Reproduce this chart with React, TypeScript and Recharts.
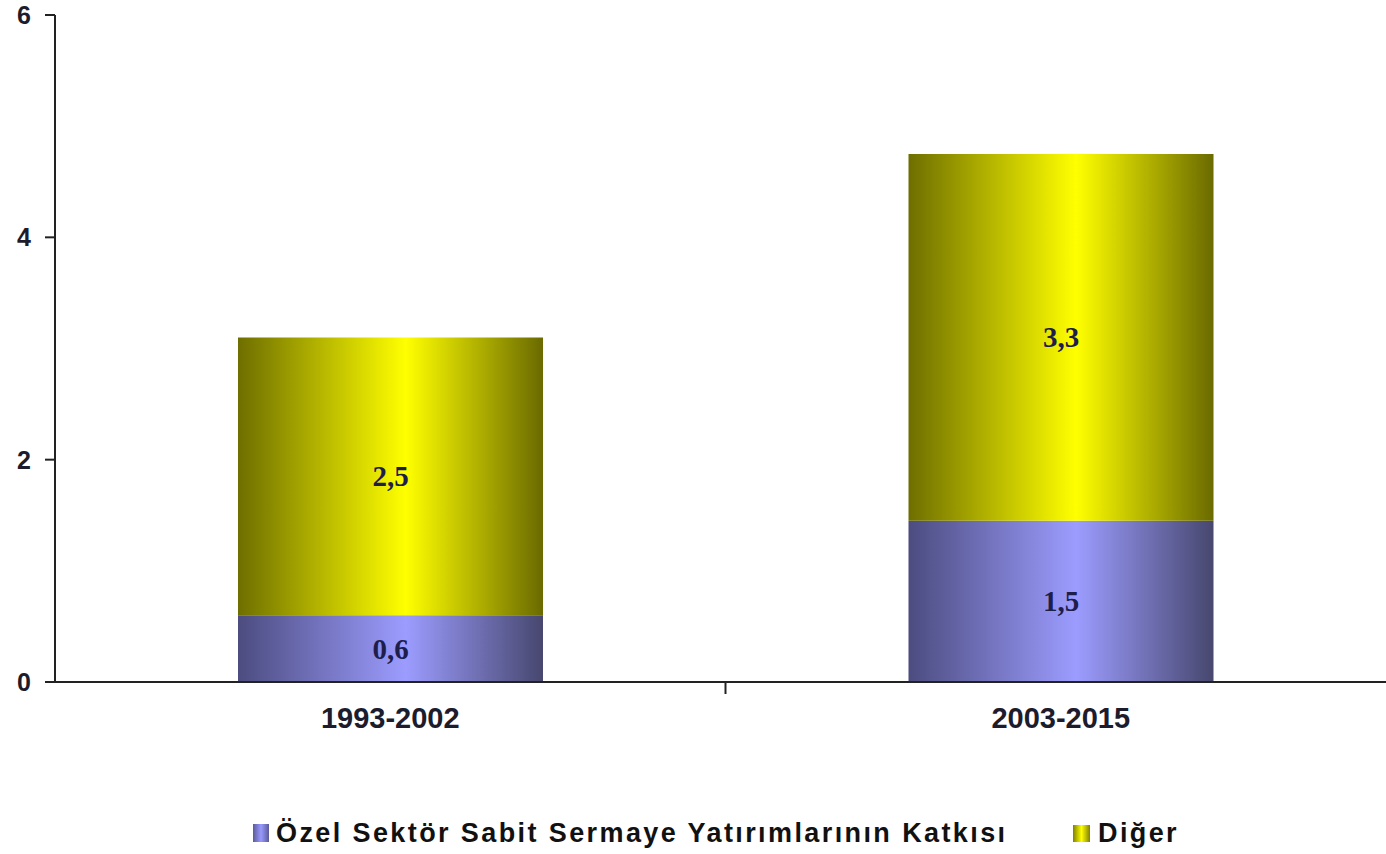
import React from 'react';
import { BarChart, Bar, XAxis, YAxis, LabelList } from 'recharts';

const categories = ['1993-2002', '2003-2015'];
const ozelValues = [0.6, 1.45];
const digerValues = [2.5, 3.3];
const ozelLabels = ['0,6', '1,5'];
const digerLabels = ['2,5', '3,3'];
const yTicks = [0, 2, 4, 6];
const seriesNames = ['Özel Sektör Sabit Sermaye Yatırımlarının Katkısı', 'Diğer'];

const data = categories.map((c, i) => ({ name: c, ozel: ozelValues[i], diger: digerValues[i] }));

const SANS = '"Liberation Sans", Arial, sans-serif';
const SERIF = '"Liberation Serif", "Times New Roman", serif';

const XTick = (props: any) => {
  const { x, y, payload, index, width, visibleTicksCount } = props;
  const band = width / (visibleTicksCount || categories.length);
  return (
    <g>
      <text x={x} y={y + 38} textAnchor="middle" fontFamily={SANS} fontWeight="bold" fontSize={29} fill="#1c1c2c">
        {payload.value}
      </text>
      {index < categories.length - 1 && (
        <line x1={x + band / 2} x2={x + band / 2} y1={y - 8} y2={y + 4} stroke="#222" strokeWidth={2} />
      )}
    </g>
  );
};

const makeLabel = (labels: string[]) => (props: any) => {
  const { x, y, width, height, index } = props;
  return (
    <text x={x + width / 2} y={y + height / 2} dy={10} textAnchor="middle" fontFamily={SERIF} fontWeight="bold" fontSize={29} fill="#1e1e4a">
      {labels[index]}
    </text>
  );
};

const legendText: React.CSSProperties = {
  fontFamily: SANS,
  fontWeight: 'bold',
  fontSize: 27,
  letterSpacing: 2.4,
  color: '#111',
  whiteSpace: 'nowrap',
  lineHeight: '30px',
};

export default function App() {
  return (
    <div style={{ position: 'absolute', left: 0, top: 0, width: 1386, height: 854, overflow: 'hidden', background: '#fff' }}>
      <BarChart width={1396} height={854} data={data} margin={{ top: 15, right: 0, left: 0, bottom: 0 }}>
        <defs>
          <linearGradient id="gradOzel" x1="0" y1="0" x2="1" y2="0">
            <stop offset="0%" stopColor="#4c4c80" />
            <stop offset="55%" stopColor="#9c9cff" />
            <stop offset="100%" stopColor="#47476f" />
          </linearGradient>
          <linearGradient id="gradDiger" x1="0" y1="0" x2="1" y2="0">
            <stop offset="0%" stopColor="#6e6e00" />
            <stop offset="55%" stopColor="#ffff00" />
            <stop offset="100%" stopColor="#6a6a00" />
          </linearGradient>
        </defs>
        <XAxis
          dataKey="name"
          axisLine={{ stroke: '#222', strokeWidth: 2 }}
          tickLine={false}
          tick={<XTick />}
          height={172}
          interval={0}
        />
        <YAxis
          domain={[0, 6]}
          ticks={yTicks}
          width={55}
          axisLine={{ stroke: '#222', strokeWidth: 2 }}
          tickLine={{ stroke: '#222', strokeWidth: 2 }}
          tickSize={10}
          tickMargin={14}
          tick={{ fontFamily: SANS, fontWeight: 'bold', fontSize: 25, fill: '#1c1c2c' }}
        />
        <Bar dataKey="ozel" stackId="a" fill="url(#gradOzel)" barSize={305} isAnimationActive={false}>
          <LabelList dataKey="ozel" content={makeLabel(ozelLabels)} />
        </Bar>
        <Bar dataKey="diger" stackId="a" fill="url(#gradDiger)" barSize={305} isAnimationActive={false}>
          <LabelList dataKey="diger" content={makeLabel(digerLabels)} />
        </Bar>
      </BarChart>
      <div style={{ position: 'absolute', left: 253, top: 818, display: 'flex', alignItems: 'center' }}>
        <span style={{ display: 'inline-block', width: 16, height: 18, background: 'linear-gradient(to right, #5a5a99, #9999ff, #5a5a99)', marginRight: 7 }} />
        <span style={legendText}>{seriesNames[0]}</span>
      </div>
      <div style={{ position: 'absolute', left: 1073, top: 818, display: 'flex', alignItems: 'center' }}>
        <span style={{ display: 'inline-block', width: 17, height: 17, background: 'linear-gradient(to right, #808000, #ffff00, #808000)', marginRight: 8 }} />
        <span style={legendText}>{seriesNames[1]}</span>
      </div>
    </div>
  );
}
